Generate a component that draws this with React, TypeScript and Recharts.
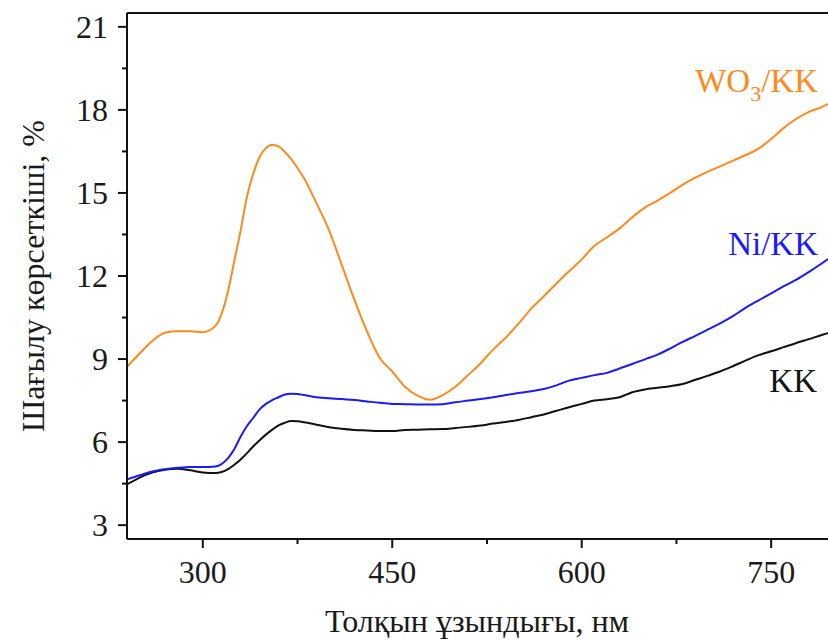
import React from 'react';
import { LineChart, Line, XAxis, YAxis, ReferenceLine } from 'recharts';

const wavelength = [
  240, 250, 260, 270, 280, 290, 300, 310, 320, 325, 330, 335, 340, 345, 350, 355, 360, 365, 370, 375, 380, 390, 400, 410, 420, 430,
  440, 450, 460, 470, 480, 490, 500, 510, 520, 530, 540, 550, 560, 570, 580, 590, 600, 610, 620, 630,
  640, 650, 660, 670, 680, 690, 700, 710, 720, 730, 740, 750, 760, 770, 780, 790, 795,
];

const wo3Kk = [
  8.72, 9.2, 9.65, 9.95, 10.0, 10.0, 9.97, 10.2, 11.45, 12.55, 13.65, 14.87, 15.7, 16.3, 16.62, 16.74, 16.68, 16.48, 16.22, 15.9, 15.55, 14.63, 13.65, 12.4, 11.15, 10.0,
  9.05, 8.55, 8.0, 7.68, 7.53, 7.7, 8.0, 8.42, 8.85, 9.35, 9.78, 10.28, 10.82, 11.27, 11.73, 12.17, 12.6, 13.08, 13.4, 13.72,
  14.12, 14.47, 14.72, 15.0, 15.3, 15.55, 15.77, 15.97, 16.17, 16.37, 16.6, 16.95, 17.35, 17.68, 17.93, 18.1, 18.22,
];

const niKk = [
  4.65, 4.8, 4.94, 5.02, 5.07, 5.1, 5.1, 5.12, 5.42, 5.75, 6.2, 6.58, 6.88, 7.18, 7.38, 7.52, 7.62, 7.72, 7.75, 7.74, 7.7, 7.62, 7.58, 7.56, 7.52, 7.47,
  7.42, 7.38, 7.37, 7.36, 7.36, 7.37, 7.44, 7.5, 7.56, 7.62, 7.7, 7.77, 7.84, 7.92, 8.05, 8.22, 8.32, 8.42, 8.5, 8.66,
  8.82, 8.99, 9.16, 9.38, 9.62, 9.84, 10.07, 10.3, 10.56, 10.86, 11.12, 11.37, 11.63, 11.87, 12.15, 12.45, 12.61,
];

const kk = [
  4.47, 4.72, 4.9, 5.0, 5.04, 4.98, 4.9, 4.88, 5.02, 5.18, 5.37, 5.6, 5.85, 6.07, 6.27, 6.45, 6.6, 6.7, 6.76, 6.75, 6.72, 6.63, 6.54, 6.48, 6.44, 6.42,
  6.4, 6.4, 6.44, 6.45, 6.46, 6.47, 6.51, 6.55, 6.6, 6.67, 6.73, 6.8, 6.9, 7.0, 7.13, 7.26, 7.38, 7.5, 7.55, 7.62,
  7.8, 7.9, 7.96, 8.02, 8.1, 8.25, 8.4, 8.56, 8.75, 8.95, 9.14, 9.28, 9.43, 9.58, 9.72, 9.87, 9.94,
];

const xTicks = [300, 375, 450, 525, 600, 675, 750];
const xMajor = [300, 450, 600, 750];
const yTicks = [3, 4.5, 6, 7.5, 9, 10.5, 12, 13.5, 15, 16.5, 18, 19.5, 21];
const yMajor = [3, 6, 9, 12, 15, 18, 21];

const data = wavelength.map((w, i) => ({ w, kk: kk[i], ni: niKk[i], wo3: wo3Kk[i] }));

const FONT = "'Liberation Serif', 'Times New Roman', serif";
const ORANGE = '#ff8a1c';
const BLUE = '#1a1aff';

const XTick = ({ x, y, payload }: any) => {
  const major = xMajor.includes(payload.value);
  return (
    <g>
      <line x1={x} x2={x} y1={y} y2={y + (major ? 9 : 5)} stroke="#111" strokeWidth={2} />
      {major && (
        <text x={x} y={y + 44} textAnchor="middle" fontSize={32} fontFamily={FONT} fill="#1a1a1a">
          {payload.value}
        </text>
      )}
    </g>
  );
};

const YTick = ({ x, y, payload }: any) => {
  const major = yMajor.includes(payload.value);
  return (
    <g>
      <line x1={x} x2={x - (major ? 9 : 5)} y1={y} y2={y} stroke="#111" strokeWidth={2} />
      {major && (
        <text x={x - 19} y={y + 11} textAnchor="end" fontSize={32} fontFamily={FONT} fill="#1a1a1a">
          {payload.value}
        </text>
      )}
    </g>
  );
};

export default function App() {
  return (
    <div style={{ position: 'absolute', left: 0, top: 0, width: 828, height: 640, background: '#fff' }}>
      <LineChart width={828} height={640} data={data} margin={{ top: 13, right: 0, bottom: 0, left: 0 }}>
        <XAxis
          dataKey="w"
          type="number"
          domain={[240, 795]}
          allowDataOverflow
          ticks={xTicks}
          tick={<XTick />}
          tickLine={false}
          tickSize={0}
          tickMargin={0}
          height={101}
          axisLine={{ stroke: '#111', strokeWidth: 2 }}
          interval={0}
        />
        <YAxis
          type="number"
          domain={[2.5, 21.5]}
          allowDataOverflow
          ticks={yTicks}
          tick={<YTick />}
          tickLine={false}
          tickSize={0}
          tickMargin={0}
          width={127}
          axisLine={{ stroke: '#111', strokeWidth: 2 }}
          interval={0}
        />
        <ReferenceLine y={21.5} stroke="#111" strokeWidth={2} />
        <Line type="monotone" dataKey="kk" stroke="#111" strokeWidth={2} dot={false} isAnimationActive={false} />
        <Line type="monotone" dataKey="ni" stroke={BLUE} strokeWidth={2} dot={false} isAnimationActive={false} />
        <Line type="monotone" dataKey="wo3" stroke={ORANGE} strokeWidth={2} dot={false} isAnimationActive={false} />
      </LineChart>
      <svg width={828} height={640} style={{ position: 'absolute', left: 0, top: 0, pointerEvents: 'none' }}>
        <text x={477} y={632} textAnchor="middle" fontSize={32} fontFamily={FONT} fill="#1a1a1a">
          Толқын ұзындығы, нм
        </text>
        <text
          x={44}
          y={276}
          transform="rotate(-90, 44, 276)"
          textAnchor="middle"
          fontSize={32}
          fontFamily={FONT}
          fill="#1a1a1a"
        >
          Шағылу көрсеткіші, %
        </text>
        <text x={818} y={92} textAnchor="end" fontSize={33} fontFamily={FONT} fill={ORANGE}>
          WO<tspan fontSize={22} dy={9}>3</tspan><tspan dy={-9}>/KK</tspan>
        </text>
        <text x={818} y={255} textAnchor="end" fontSize={33} fontFamily={FONT} fill={BLUE}>
          Ni/KK
        </text>
        <text x={817} y={392} textAnchor="end" fontSize={33} fontFamily={FONT} fill="#111">
          KK
        </text>
      </svg>
    </div>
  );
}
